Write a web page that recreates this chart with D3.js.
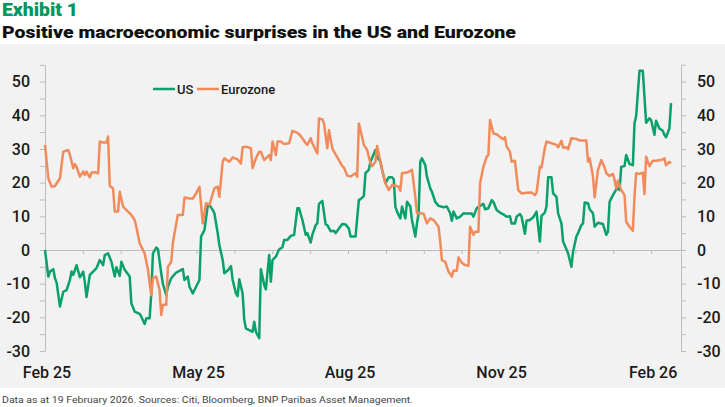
<!DOCTYPE html>
<html>
<head>
<meta charset="utf-8">
<script src="https://cdn.jsdelivr.net/npm/d3@7"></script>
<style>
body { margin: 0; background: #fff; }
</style>
</head>
<body>
<div id="chart"></div>
<script>
const width = 725;
const height = 407;

const plot = { left: 45, right: 681, top: 64.8, bottom: 351 };

const startDate = new Date(2025, 1, 1);
const endDate = new Date(2026, 1, 19);

// days since 1 Feb 2025
const usDays = [0,2,3,5,6,7,9,11,13,15,16,17,19,21,23,24,25,27,29,31,33,35,36,38,40,42,43,45,46,48,
  51,52,54,57,58,60,61,63,64,65,67,68,70,71,73,74,76,79,83,84,86,87,89,90,93,94,96,98,99,101,
  102,104,105,107,108,110,112,113,115,116,117,119,120,121,123,125,126,127,129,130,132,133,135,136,137,139,141,143,144,146,
  148,150,152,153,155,157,158,160,161,163,164,165,167,169,170,172,174,175,177,179,181,183,184,187,189,190,192,193,195,196,
  199,200,202,203,205,207,209,210,211,212,214,215,217,218,220,221,223,224,225,226,227,229,230,232,233,235,237,240,242,244,
  245,246,248,250,252,254,257,258,260,262,264,265,267,269,270,272,274,276,278,280,281,283,284,286,287,289,290,292,294,296,
  298,299,301,302,303,305,306,308,309,311,312,314,315,317,318,320,321,323,324,325,327,328,330,331,333,336,338,339,340,342,
  344,345,346,347,349,350,352,354,355,356,358,360,362,364,365,367,368,370,372,373,374,376,377];
const usValues = [0,-7.9,-6.4,-5.7,-8.4,-9.7,-16.8,-12.4,-11.9,-8.9,-6.4,-7.4,-4.5,-8.1,-6.4,-9.7,-14.0,-7.4,-6.4,-5.4,-3.0,-4.5,-1.5,-1.0,-3.5,-7.9,-5.1,-7.7,-3.5,-5.9,
  -7.9,-15.8,-18.3,-19.0,-19.8,-22.0,-20.3,-20.3,-12.9,-1.0,0.7,0.3,-6.9,-10.1,-13.4,-10.9,-8.4,-6.7,-5.7,-8.9,-7.9,-10.9,-12.9,-11.9,-8.9,4.0,5.9,13.1,13.4,11.9,
  10.9,5.0,1.5,-3.0,-6.9,-6.1,-4.8,-8.9,-12.9,-13.7,-8.7,-12.9,-20.8,-23.3,-23.8,-24.3,-21.3,-24.3,-26.2,-5.7,-10.4,-11.7,-1.5,-9.4,-3.0,-2.0,0.2,0.8,3.0,3.0,
  4.2,4.5,12.4,12.4,8.9,4.5,5.0,2.2,4.5,7.4,7.9,13.7,14.6,7.6,7.4,5.6,5.7,5.0,6.4,7.7,7.6,6.4,4.0,4.0,14.8,15.1,16.0,22.8,23.8,26.2,
  29.7,27.7,26.2,23.8,19.8,21.6,21.6,21.0,12.9,11.4,9.4,12.9,9.4,14.3,12.9,8.9,4.0,7.9,10.9,26.2,27.2,25.2,21.8,18.3,17.3,14.3,13.1,12.7,12.9,10.9,
  8.7,11.4,9.4,9.9,10.9,10.8,10.8,9.9,12.4,13.1,13.7,12.1,12.4,14.8,14.3,11.9,11.1,10.6,9.9,10.0,7.9,7.9,9.9,10.7,9.9,4.8,8.7,8.9,9.7,11.4,
  2.5,10.1,11.1,12.9,21.6,21.6,16.8,15.8,10.9,7.9,2.5,0.2,-1.0,-5.0,-0.5,4.0,5.0,7.4,7.9,14.1,13.9,12.1,10.9,6.9,8.1,7.7,4.5,5.4,14.3,16.3,
  18.0,18.3,17.8,24.7,24.9,28.2,25.5,25.2,37.6,39.8,53.2,53.2,37.8,39.1,38.6,34.2,38.4,36.1,35.4,34.2,33.5,36.1,43.6];

const ezDays = [0,2,4,6,9,11,14,15,17,18,19,21,23,24,25,27,28,30,32,33,35,37,38,39,41,42,44,45,47,50,
  52,54,55,57,58,60,62,64,65,67,69,70,71,73,74,76,77,78,80,83,84,87,89,91,93,95,97,99,102,104,
  105,107,108,111,113,116,118,119,121,124,125,127,129,130,132,133,135,136,137,139,140,142,144,147,149,152,153,155,157,158,
  160,161,164,165,167,168,170,171,173,175,177,179,180,182,184,187,188,189,191,192,194,196,197,199,200,202,203,205,207,209,
  211,213,214,215,218,220,221,223,224,226,228,230,232,234,237,238,239,241,243,245,246,248,249,251,253,255,256,258,259,261,
  262,264,266,267,268,270,272,274,276,277,278,280,281,283,285,287,290,293,295,296,298,299,301,302,305,308,309,311,312,314,
  315,317,320,322,326,327,328,330,331,333,335,337,338,340,342,343,344,345,347,349,350,352,354,355,356,358,360,361,362,364,
  366,368,371,373,374,376,377];
const ezValues = [31.2,21.3,18.8,19.0,21.3,29.2,29.7,28.2,24.3,25.5,24.7,21.8,23.3,22.3,23.3,21.6,23.0,23.1,22.8,32.2,31.9,31.9,33.7,19.0,18.3,11.4,11.4,17.3,12.9,11.4,
  10.4,8.9,6.9,2.0,1.0,-1.0,-5.9,-13.4,-8.4,-7.9,-11.9,-19.3,-16.3,-16.3,-5.0,-3.5,2.0,5.0,10.4,10.4,15.6,15.3,15.3,16.8,18.8,7.9,13.9,13.4,18.3,18.8,
  15.8,26.2,27.2,26.2,27.5,26.9,25.7,30.5,30.7,30.2,24.3,27.2,29.2,29.2,26.7,27.2,28.2,26.7,32.2,28.2,32.2,32.2,31.5,31.7,35.4,34.8,34.4,33.2,31.7,31.2,
  33.2,31.7,28.7,39.1,38.8,37.6,30.2,35.6,30.2,28.4,26.7,24.9,24.5,22.1,21.8,22.8,21.8,37.6,33.5,31.2,29.7,25.7,24.9,26.2,30.9,26.2,23.8,19.8,17.8,19.3,
  19.1,18.8,17.6,22.8,23.0,23.5,23.8,15.8,10.9,10.9,10.8,7.9,9.4,8.9,6.9,2.5,-3.0,-3.5,-6.4,-7.9,-6.1,-6.2,-2.2,-3.8,-4.5,-4.7,6.9,4.5,5.4,5.4,
  19.8,24.7,27.7,28.2,38.6,34.6,34.4,33.5,32.9,33.5,30.7,29.2,26.2,26.5,17.8,16.8,17.0,17.1,16.3,17.0,24.7,24.5,30.2,32.2,31.7,31.2,30.5,32.4,30.4,30.5,
  29.9,33.2,33.0,32.5,32.5,26.2,27.2,21.8,15.6,23.8,26.7,24.5,22.8,22.0,22.6,20.8,18.3,20.6,17.8,16.3,8.4,6.9,5.7,15.8,22.8,22.6,23.0,16.6,27.7,24.9,
  26.5,26.5,26.7,27.2,25.2,26.2,25.7];

const xLabels = ["Feb 25", "May 25", "Aug 25", "Nov 25", "Feb 26"];
const yTickValues = d3.range(-30, 56, 5);

const seriesNames = ["US", "Eurozone"];
const seriesColors = ["#0aa06a", "#f28b5c"];

const dayToDate = d => new Date(startDate.getTime() + d * 864e5);

const usData = usDays.map((d, i) => ({ date: dayToDate(d), value: usValues[i] }));
const ezData = ezDays.map((d, i) => ({ date: dayToDate(d), value: ezValues[i] }));

// axis ticks every 1/16 of a year, a label on every 4th
const tickDates = d3.range(0, 17).map(i => dayToDate(i * 365 / 16));
const labelDates = xLabels.map((l, i) => tickDates[i * 4]);

const svg = d3.select("#chart")
  .append("svg")
  .attr("width", width)
  .attr("height", height)
  .style("font-family", "Roboto, sans-serif");

svg.append("rect")
  .attr("x", 0)
  .attr("y", 44)
  .attr("width", width)
  .attr("height", 344)
  .attr("fill", "#f2f2f2");

svg.append("text")
  .attr("x", 2)
  .attr("y", 16)
  .attr("fill", "#00965e")
  .style("font-size", "18px")
  .style("font-weight", 900)
  .attr("textLength", 76)
  .attr("lengthAdjust", "spacingAndGlyphs")
  .text("Exhibit 1");

svg.append("text")
  .attr("x", 2)
  .attr("y", 37.5)
  .attr("fill", "#111")
  .style("font-size", "17px")
  .style("font-weight", 900)
  .attr("textLength", 514)
  .attr("lengthAdjust", "spacingAndGlyphs")
  .text("Positive macroeconomic surprises in the US and Eurozone");

svg.append("text")
  .attr("x", 2)
  .attr("y", 403)
  .attr("fill", "#444")
  .style("font-size", "9px")
  .attr("textLength", 411)
  .attr("lengthAdjust", "spacingAndGlyphs")
  .text("Data as at 19 February 2026. Sources: Citi, Bloomberg, BNP Paribas Asset Management.");

const x = d3.scaleTime()
  .domain([startDate, endDate])
  .range([plot.left, plot.right]);

const y = d3.scaleLinear()
  .domain([-30, 55])
  .range([plot.bottom, plot.top]);

const fmt = d => d % 10 === 0 ? String(d) : "";

const leftAxis = svg.append("g")
  .attr("transform", `translate(${plot.left},0)`)
  .call(d3.axisLeft(y).tickValues(yTickValues).tickSize(5).tickSizeOuter(0).tickPadding(10).tickFormat(fmt));

const rightAxis = svg.append("g")
  .attr("transform", `translate(${plot.right},0)`)
  .call(d3.axisRight(y).tickValues(yTickValues).tickSize(5).tickSizeOuter(0).tickPadding(11).tickFormat(fmt));

const zeroAxis = svg.append("g")
  .attr("transform", `translate(0,${y(0)})`)
  .call(d3.axisBottom(x).tickValues(tickDates.slice(1)).tickSize(4).tickSizeOuter(0).tickFormat(""));

[leftAxis, rightAxis, zeroAxis].forEach(g => {
  g.select(".domain").attr("stroke", "#bdbdbd");
  g.selectAll(".tick line").attr("stroke", "#bdbdbd");
  g.selectAll(".tick text")
    .attr("fill", "#1a1a1a")
    .style("font-family", "Roboto, sans-serif")
    .style("font-size", "16px")
    .style("font-weight", 500);
});

svg.append("g")
  .selectAll("text")
  .data(xLabels)
  .join("text")
    .attr("x", (d, i) => x(labelDates[i]) + 2)
    .attr("y", 378)
    .attr("text-anchor", "middle")
    .attr("fill", "#1a1a1a")
    .style("font-size", "16px")
    .style("font-weight", 500)
    .text(d => d);

const line = d3.line()
  .x(d => x(d.date))
  .y(d => y(d.value));

svg.append("g")
  .selectAll("path")
  .data([usData, ezData])
  .join("path")
    .attr("d", line)
    .attr("fill", "none")
    .attr("stroke", (d, i) => seriesColors[i])
    .attr("stroke-width", 2.5)
    .attr("stroke-linejoin", "round");

// legend
const legendX = [153, 197];
const legend = svg.append("g")
  .selectAll("g")
  .data(seriesNames)
  .join("g")
    .attr("transform", (d, i) => `translate(${legendX[i]},89)`);

legend.append("line")
  .attr("x1", 0)
  .attr("x2", 22)
  .attr("stroke", (d, i) => seriesColors[i])
  .attr("stroke-width", 2.5);

legend.append("text")
  .attr("x", 24)
  .attr("y", 4.5)
  .attr("fill", "#1a1a1a")
  .style("font-size", "13px")
  .style("font-weight", 500)
  .text(d => d);
</script>
</body>
</html>
